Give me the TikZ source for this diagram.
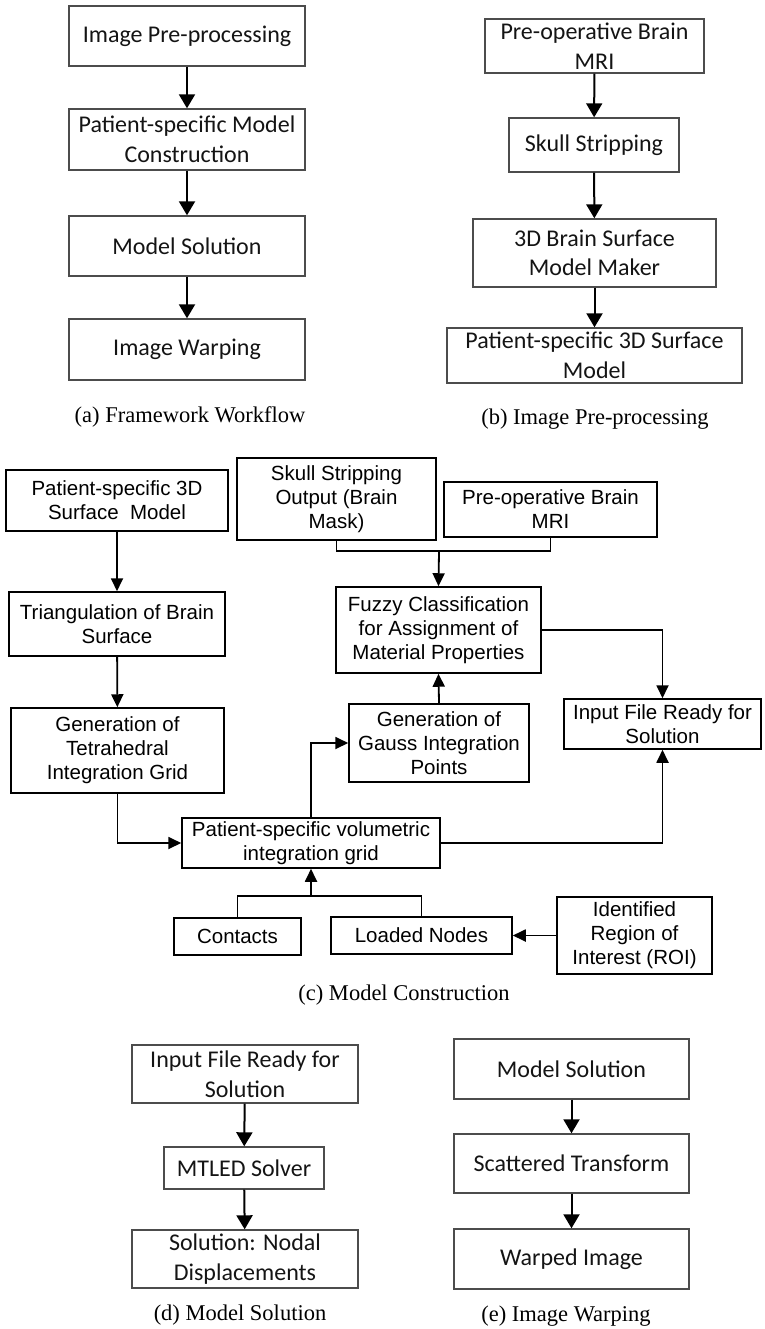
\documentclass[tikz,border=0pt]{standalone}
\usepackage{fontspec}
\setmainfont{Liberation Serif}
\newfontfamily\calfont{Carlito}
\newfontfamily\arfont{Liberation Sans}
\usetikzlibrary{arrows.meta}
\newcommand{\mybox}[7][]{\node[#1, minimum width={(#5-#3)*1pt}, minimum height={(#6-#4)*1pt}] (#2) at ({(#3+#5)/2},{(#4+#6)/2}) {#7};}
\begin{document}
\begin{tikzpicture}[x=1pt,y=-1pt,
  boxA/.style={draw=black!70, line width=1.4pt, inner sep=0pt, align=center, text=black!92, font=\calfont\fontsize{24}{29.5}\selectfont},
  boxC/.style={draw=black, line width=1.5pt, inner sep=0pt, align=center, font=\arfont\fontsize{20.5}{24}\selectfont},
  arrA/.style={line width=2pt, -{Triangle[length=14pt,width=16pt]}},
  arrC/.style={line width=1.8pt, -{Triangle[length=13pt,width=12pt]}},
  lineC/.style={line width=1.8pt},
  captext/.style={inner sep=0pt, font=\fontsize{22.5}{27}\selectfont}]
\useasboundingbox (0,0) rectangle (764,1329);
% (a)
\mybox[boxA]{a1}{69}{6}{305}{66}{Image Pre-processing}
\mybox[boxA]{a2}{69}{109}{305}{170}{Patient-specific Model\\Construction}
\mybox[boxA]{a3}{69}{216}{305}{276}{Model Solution}
\mybox[boxA]{a4}{69}{319}{305}{380}{Image Warping}
\draw[arrA] (a1) -- (a2);
\draw[arrA] (a2) -- (a3);
\draw[arrA] (a3) -- (a4);
\node[captext] (capa) at (190,417) {(a) Framework Workflow};
% (b)
\mybox[boxA]{b1}{485}{19}{704}{73}{Pre-operative Brain\\MRI}
\mybox[boxA]{b2}{509}{118}{679}{172}{Skull Stripping}
\mybox[boxA]{b3}{473}{219}{716}{287}{3D Brain Surface\\Model Maker}
\mybox[boxA]{b4}{447}{328}{742}{383}{Patient-specific 3D Surface\\Model}
\draw[arrA] (b1) -- (b2);
\draw[arrA] (b2) -- (b3);
\draw[arrA] (b3) -- (b4);
\node[captext] (capb) at (595,419) {(b) Image Pre-processing};
% (c)
\mybox[boxC]{c1}{6}{470}{228}{531}{Patient-specific 3D\\Surface\ \ Model}
\mybox[boxC]{c2}{9}{592}{225}{656}{Triangulation of Brain\\Surface}
\mybox[boxC]{c3}{11}{708}{224}{793}{Generation of\\Tetrahedral\\Integration Grid}
\mybox[boxC]{c4}{237}{458}{436}{540}{Skull Stripping\\Output (Brain\\Mask)}
\mybox[boxC]{c5}{444}{482}{657}{537}{Pre-operative Brain\\MRI}
\mybox[boxC]{c6}{336}{587}{541}{673}{Fuzzy Classification\\for Assignment of\\Material Properties}
\mybox[boxC]{c7}{349}{704}{529}{782}{Generation of\\Gauss Integration\\Points}
\mybox[boxC]{c8}{564}{699}{761}{749}{Input File Ready for\\Solution}
\mybox[boxC]{c9}{182}{818}{440}{868}{Patient-specific volumetric\\integration grid}
\mybox[boxC]{c10}{174}{918}{301}{955}{Contacts}
\mybox[boxC]{c11}{331}{917}{512}{954}{Loaded Nodes}
\mybox[boxC]{c12}{557}{897}{712}{974}{Identified\\Region of\\Interest (ROI)}
\coordinate (j1) at (439,551);
\coordinate (j2) at (311,896);
\draw[arrC] (c1) -- (c2);
\draw[arrC] (c2) -- (c3);
\draw[arrC] (c3.south) |- (c9.west);
\draw[lineC] (c4.south) |- (j1) -| (c5.south);
\draw[arrC] (j1) -- (c6.north);
\draw[arrC] (c7.north) -- (c6.south);
\draw[arrC] (c6.east) -| (c8.north);
\draw[arrC] (c9.east) -| (c8.south);
\draw[arrC] (c9.north) |- (c7.west);
\draw[lineC] (c10.north) |- (j2) -| (c11.north);
\draw[arrC] (j2) -- (c9.south);
\draw[arrC] (c12.west) -- (c11.east);
\node[captext] (capc) at (404,995) {(c) Model Construction};
% (d)
\mybox[boxA]{d1}{132}{1045}{358}{1103}{Input File Ready for\\Solution}
\mybox[boxA]{d2}{164}{1147}{324}{1189}{MTLED Solver}
\mybox[boxA]{d3}{132}{1230}{358}{1288}{Solution: Nodal\\Displacements}
\draw[arrA] (d1) -- (d2);
\draw[arrA] (d2) -- (d3);
\node[captext] (capd) at (240,1315) {(d) Model Solution};
% (e)
\mybox[boxA]{e1}{454}{1039}{689}{1099}{Model Solution}
\mybox[boxA]{e2}{454}{1134}{689}{1193}{Scattered Transform}
\mybox[boxA]{e3}{454}{1229}{689}{1289}{Warped Image}
\draw[arrA] (e1) -- (e2);
\draw[arrA] (e2) -- (e3);
\node[captext] (cape) at (566,1316) {(e) Image Warping};
\end{tikzpicture}
\end{document}
